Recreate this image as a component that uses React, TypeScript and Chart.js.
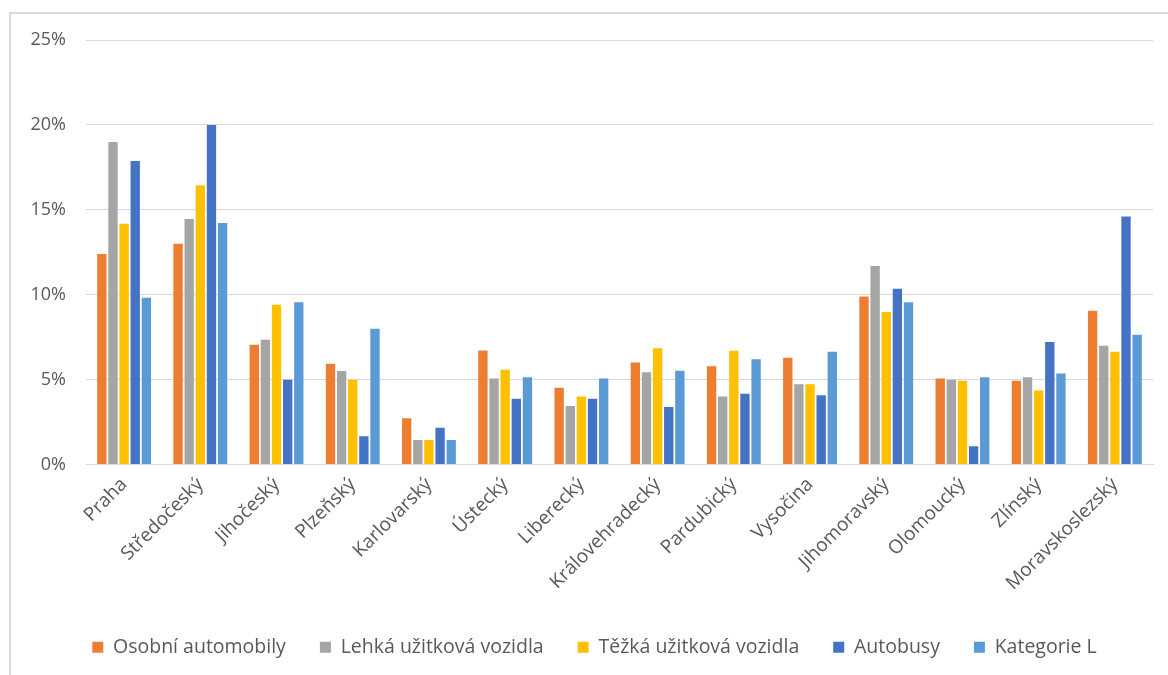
import React, { useEffect, useRef } from "react";
import { Chart, registerables } from "chart.js";

Chart.register(...registerables);

const categories = [
  "Praha", "Středočeský", "Jihočeský", "Plzeňský", "Karlovarský", "Ústecký", "Liberecký",
  "Královehradecký", "Pardubický", "Vysočina", "Jihomoravský", "Olomoucký", "Zlínský", "Moravskoslezský",
];

const osobni = [12.4, 13.0, 7.05, 5.93, 2.73, 6.72, 4.52, 6.01, 5.79, 6.29, 9.9, 5.07, 4.93, 9.06];
const lehka = [19.0, 14.46, 7.35, 5.5, 1.45, 5.07, 3.44, 5.44, 4.01, 4.73, 11.69, 4.99, 5.14, 6.99];
const tezka = [14.18, 16.44, 9.41, 4.99, 1.45, 5.58, 4.01, 6.85, 6.7, 4.73, 8.98, 4.93, 4.36, 6.64];
const autobusy = [17.87, 20.0, 4.99, 1.67, 2.16, 3.87, 3.87, 3.38, 4.17, 4.08, 10.35, 1.08, 7.21, 14.61];
const kategorieL = [9.82, 14.22, 9.55, 8.0, 1.45, 5.14, 5.07, 5.52, 6.2, 6.64, 9.55, 5.14, 5.36, 7.64];

const seriesNames = [
  "Osobní automobily", "Lehká užitková vozidla", "Těžká užitková vozidla", "Autobusy", "Kategorie L",
];
const seriesColors = ["#ED7D31", "#A5A5A5", "#FFC000", "#4472C4", "#5B9BD5"];
const yTicks = [0, 5, 10, 15, 20, 25];

const FONT = "'Open Sans', Lato, sans-serif";

const shiftLegend = {
  id: "shiftLegend",
  afterLayout(chart: any) {
    const lg = chart.legend;
    if (lg) {
      lg.left += 18;
      lg.right += 18;
    }
  },
};

export default function App() {
  const ref = useRef<HTMLCanvasElement | null>(null);

  useEffect(() => {
    document.body.style.margin = "0";
    const values = [osobni, lehka, tezka, autobusy, kategorieL];
    const chart = new Chart(ref.current!, {
      type: "bar",
      data: {
        labels: categories,
        datasets: values.map((v, i) => ({
          label: seriesNames[i],
          data: v,
          backgroundColor: seriesColors[i],
          borderWidth: 0,
          categoryPercentage: 0.73,
          barPercentage: 0.84,
        })),
      },
      plugins: [shiftLegend],
      options: {
        animation: false,
        responsive: false,
        layout: { padding: { top: 40, right: 15, bottom: 8, left: 0 } },
        plugins: {
          tooltip: { enabled: false },
          legend: {
            position: "bottom",
            labels: {
              font: { family: FONT, size: 19.5 },
              color: "#595959",
              boxWidth: 11,
              boxHeight: 11,
              padding: 34,
            },
          },
        },
        scales: {
          x: {
            grid: { display: false, drawTicks: false },
            border: { color: "#D9D9D9", width: 1 },
            ticks: {
              font: { family: FONT, size: 19 },
              color: "#595959",
              minRotation: 45,
              maxRotation: 45,
              padding: 9,
              autoSkip: false,
            },
            afterFit: (s: any) => {
              s.height = 139;
            },
          },
          y: {
            min: 0,
            max: 25,
            afterBuildTicks: (s: any) => {
              s.ticks = yTicks.map((v) => ({ value: v }));
            },
            grid: { color: "#D9D9D9", lineWidth: 1, drawTicks: false },
            border: { display: false },
            ticks: {
              font: { family: FONT, size: 18 },
              color: "#595959",
              padding: 20,
              callback: (v: any) => `${v}%`,
            },
            afterFit: (s: any) => {
              s.width = 86;
            },
          },
        },
      },
    });
    return () => chart.destroy();
  }, []);

  return (
    <div style={{ position: "relative", width: 1168, height: 675, overflow: "hidden", background: "#fff" }}>
      <div
        style={{
          position: "absolute",
          left: 9,
          top: 12,
          width: 1200,
          height: 700,
          borderLeft: "2px solid #D9D9D9",
          borderTop: "2px solid #D9D9D9",
          boxSizing: "border-box",
        }}
      />
      <canvas ref={ref} width={1168} height={675} style={{ position: "absolute", left: 0, top: 0 }} />
    </div>
  );
}
